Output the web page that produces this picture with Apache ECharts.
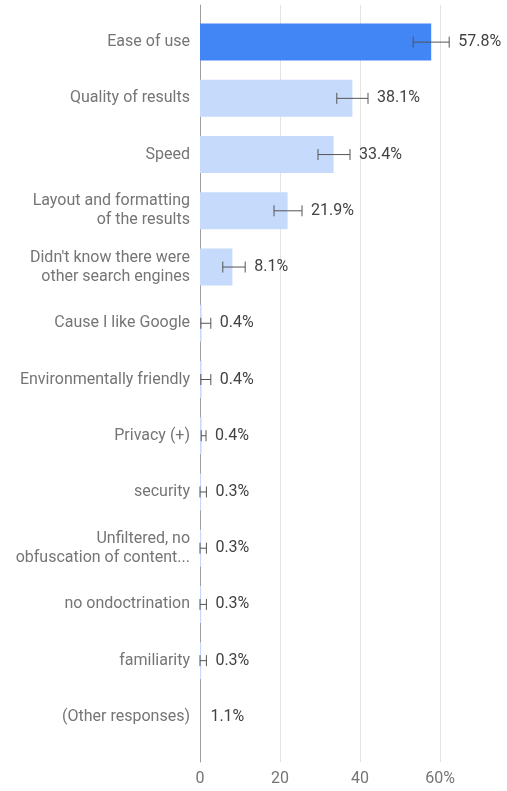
<!DOCTYPE html>
<html>
<head>
<meta charset="utf-8">
<script src="https://cdn.jsdelivr.net/npm/echarts@6/dist/echarts.min.js"></script>
<style>
  html, body { margin: 0; padding: 0; background: #fff; }
  #chart { width: 507px; height: 791px; }
</style>
</head>
<body>
<div id="chart"></div>
<script>
// reasons, top to bottom
const categories = [
  "Ease of use",
  "Quality of results",
  "Speed",
  "Layout and formatting\nof the results",
  "Didn't know there were\nother search engines",
  "Cause I like Google",
  "Environmentally friendly",
  "Privacy (+)",
  "security",
  "Unfiltered, no\nobfuscation of content...",
  "no ondoctrination",
  "familiarity",
  "(Other responses)"
];
const shares = [57.8, 38.1, 33.4, 21.9, 8.1, 0.4, 0.4, 0.4, 0.3, 0.3, 0.3, 0.3, 1.1];
// error bar ends (null = no error bar)
const errLow = [53.3, 34.2, 29.5, 18.5, 5.7, 0.2, 0.2, 0.3, 0.0, 0.0, 0.0, 0.0, null];
const errHigh = [62.3, 42.0, 37.5, 25.5, 11.3, 2.7, 2.7, 1.5, 1.6, 1.6, 1.6, 1.6, null];
const xTicks = [0, 20, 40, 60];

const chart = echarts.init(document.getElementById("chart"));

const errData = shares.map((v, i) => [i, errLow[i] == null ? "-" : errLow[i], errHigh[i] == null ? "-" : errHigh[i], v]);

// bar colour: first highlighted, "other" bar not drawn
function barColor(i) {
  if (i === 0) return "#4285f4";
  if (i === categories.length - 1) return "rgba(0,0,0,0)";
  return "#c6dafc";
}

chart.setOption({
  animation: false,
  textStyle: { fontFamily: "Roboto" },
  grid: [
    { left: 200, right: 67, top: 5, bottom: 29 },
    { left: 200, right: 67, top: 14, bottom: 46 }
  ],
  xAxis: [
    {
      gridIndex: 0,
      type: "value",
      min: xTicks[0],
      max: xTicks[xTicks.length - 1],
      interval: 20,
      axisLine: { show: false },
      axisTick: { show: false },
      splitLine: { lineStyle: { color: "#e3e3e3", width: 1 } },
      axisLabel: {
        color: "#757575",
        fontSize: 16,
        margin: 9,
        formatter: (v) => (v === 60 ? "60%" : String(v))
      }
    },
    {
      gridIndex: 1,
      type: "value",
      min: 0,
      max: 60,
      show: false
    }
  ],
  yAxis: [
    {
      gridIndex: 0,
      type: "value",
      min: 0,
      max: 1,
      axisLine: { show: true, lineStyle: { color: "#9e9e9e", width: 1 } },
      axisTick: { show: false },
      axisLabel: { show: false },
      splitLine: { show: false }
    },
    {
      gridIndex: 1,
      type: "category",
      inverse: true,
      data: categories,
      axisLine: { show: false },
      axisTick: { show: false },
      axisLabel: {
        color: "#757575",
        fontSize: 16,
        lineHeight: 19,
        margin: 10,
        align: "right"
      }
    }
  ],
  series: [
    {
      type: "bar",
      xAxisIndex: 1,
      yAxisIndex: 1,
      barWidth: 37,
      data: shares.map((v, i) => ({
        value: v,
        itemStyle: { color: barColor(i) }
      }))
    },
    {
      type: "custom",
      xAxisIndex: 1,
      yAxisIndex: 1,
      z: 5,
      encode: { y: 0, x: [1, 2] },
      data: errData,
      renderItem: function (params, api) {
        const idx = api.value(0);
        const lo = api.value(1);
        const hi = api.value(2);
        const val = api.value(3);
        const children = [];
        const barEnd = api.coord([val, idx]);
        let textX = barEnd[0] + 6;
        const y = barEnd[1];
        if (!isNaN(lo) && !isNaN(hi)) {
          const p0 = api.coord([lo, idx]);
          const p1 = api.coord([hi, idx]);
          const style = { stroke: "#555", lineWidth: 1, fill: null };
          children.push({ type: "line", shape: { x1: p0[0], y1: y, x2: p1[0], y2: y }, style: style });
          children.push({ type: "line", shape: { x1: p0[0], y1: y - 5.5, x2: p0[0], y2: y + 5.5 }, style: style });
          children.push({ type: "line", shape: { x1: p1[0], y1: y - 5.5, x2: p1[0], y2: y + 5.5 }, style: style });
          textX = p1[0] + 9;
        }
        children.push({
          type: "text",
          style: {
            x: textX,
            y: y,
            text: val + "%",
            fill: "#424242",
            font: "16px Roboto",
            textAlign: "left",
            textVerticalAlign: "middle"
          }
        });
        return { type: "group", children: children };
      }
    }
  ]
});
</script>
</body>
</html>
